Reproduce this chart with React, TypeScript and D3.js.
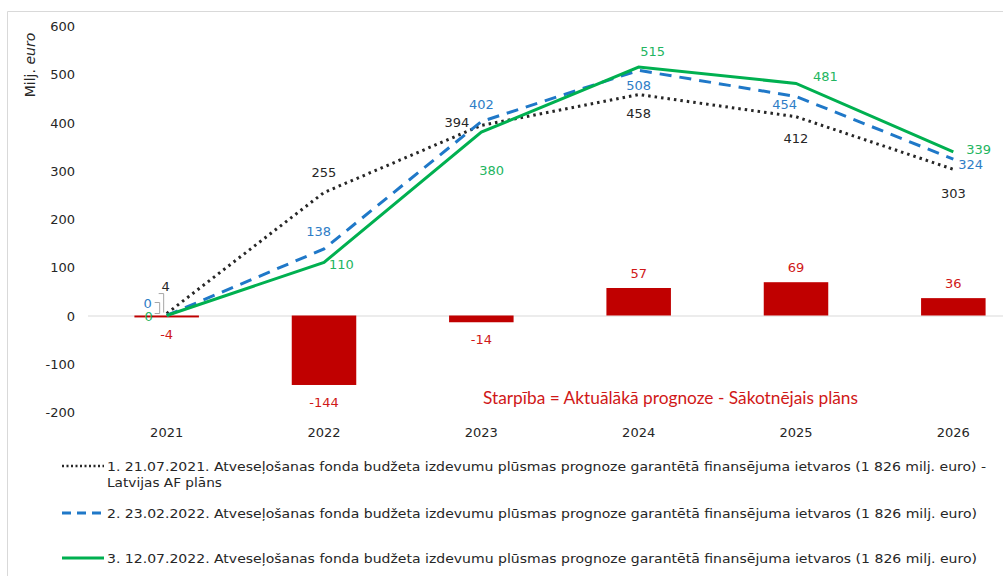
import React, { useEffect, useRef } from 'react'
import * as d3 from 'd3'

const years = ['2021', '2022', '2023', '2024', '2025', '2026']
const planInitial = [4, 255, 394, 458, 412, 303]
const planFeb = [0, 138, 402, 508, 454, 324]
const planJul = [0, 110, 380, 515, 481, 339]
const difference = [-4, -144, -14, 57, 69, 36]
const yTicks = [-200, -100, 0, 100, 200, 300, 400, 500, 600]

const legendLabels = [
  '1. 21.07.2021. Atveseļošanas fonda budžeta izdevumu plūsmas prognoze garantētā finansējuma ietvaros (1 826 milj. euro) -',
  '2. 23.02.2022. Atveseļošanas fonda budžeta izdevumu plūsmas prognoze garantētā finansējuma ietvaros (1 826 milj. euro)',
  '3. 12.07.2022. Atveseļošanas fonda budžeta izdevumu plūsmas prognoze garantētā finansējuma ietvaros (1 826 milj. euro)',
]

// label offsets [dx, dy, anchor] per point
const offInitial: [number, number, string][] = [
  [-1, -28, 'middle'], [0, -20, 'middle'], [-12, -3, 'end'], [0, 18, 'middle'], [0, 21, 'middle'], [0, 24, 'middle'],
]
const offFeb: [number, number, string][] = [
  [-15, -13, 'end'], [7, -18, 'end'], [0, -18, 'middle'], [0, 15, 'middle'], [1, 8, 'end'], [5, 5, 'start'],
]
const offJul: [number, number, string][] = [
  [-14, 0, 'end'], [5, 2, 'start'], [-2, 38, 'start'], [14, -16, 'middle'], [17, -7, 'start'], [13, -3, 'start'],
]

const BLACK = '#262626'
const BLUE = '#1f78c8'
const BLUE_TXT = '#2e7dc6'
const GREEN = '#00b050'
const GREEN_TXT = '#22b560'
const RED = '#c00000'
const RED_TXT = '#d01818'
const FONT = 'DejaVu Sans, Verdana, sans-serif'
const LEGEND_FONT = 'DejaVu Sans Condensed, DejaVu Sans, sans-serif'

export default function App() {
  const svgRef = useRef(null)

  useEffect(() => {
    const svg = d3.select(svgRef.current)
    svg.selectAll('*').remove()

    const x = d3.scaleBand().domain(years).range([88, 1032]).paddingInner(0).paddingOuter(0)
    const cx = (d: string) => (x(d) as number) + x.bandwidth() / 2
    const y = d3.scaleLinear().domain([-200, 600]).range([412, 26])

    // outer frame
    svg.append('path')
      .attr('d', 'M7.5,576 L7.5,11.5 L1003,11.5')
      .attr('fill', 'none')
      .attr('stroke', '#d9d9d9')

    // y axis label
    const yl = svg.append('text')
      .attr('transform', 'translate(35,65) rotate(-90)')
      .attr('text-anchor', 'middle')
      .attr('font-family', FONT)
      .attr('font-size', 14)
      .attr('fill', BLACK)
    yl.append('tspan').text('Milj. ')
    yl.append('tspan').attr('font-style', 'italic').text('euro')

    // y ticks
    svg.append('g').selectAll('text').data(yTicks).enter().append('text')
      .attr('x', 75)
      .attr('y', (d) => y(d) + 5)
      .attr('text-anchor', 'end')
      .attr('font-family', FONT)
      .attr('font-size', 13)
      .attr('fill', BLACK)
      .text((d) => d)

    // zero line
    svg.append('line')
      .attr('x1', 88).attr('x2', 1003)
      .attr('y1', y(0) + 0.5).attr('y2', y(0) + 0.5)
      .attr('stroke', '#d9d9d9')

    // x labels
    svg.append('g').selectAll('text').data(years).enter().append('text')
      .attr('x', (d) => cx(d))
      .attr('y', 437)
      .attr('text-anchor', 'middle')
      .attr('font-family', FONT)
      .attr('font-size', 13)
      .attr('fill', BLACK)
      .text((d) => d)

    // difference bars
    const bw = x.bandwidth() * 0.41
    svg.append('g').selectAll('rect').data(difference).enter().append('rect')
      .attr('x', (d, i) => cx(years[i]) - bw / 2)
      .attr('width', bw)
      .attr('y', (d) => y(Math.max(0, d)))
      .attr('height', (d) => Math.abs(y(d) - y(0)))
      .attr('fill', RED)

    svg.append('g').selectAll('text').data(difference).enter().append('text')
      .attr('x', (d, i) => cx(years[i]))
      .attr('y', (d) => (d < 0 ? y(d) + 22 : y(d) - 10))
      .attr('text-anchor', 'middle')
      .attr('font-family', FONT)
      .attr('font-size', 13)
      .attr('fill', RED_TXT)
      .text((d) => d)

    const line = d3.line<number>().x((d, i) => cx(years[i])).y((d) => y(d))

    // leader lines at 2021
    const p0x = cx(years[0])
    svg.append('path')
      .attr('d', `M${p0x - 8},${y(4) - 20} L${p0x - 3},${y(4) - 20} L${p0x - 3},${y(4) - 1}`)
      .attr('fill', 'none').attr('stroke', '#a6a6a6')
    svg.append('path')
      .attr('d', `M${p0x - 12},${y(0) - 13} L${p0x - 7},${y(0) - 13} L${p0x - 7},${y(0) - 2} L${p0x - 12},${y(0) - 2}`)
      .attr('fill', 'none').attr('stroke', '#a6a6a6')

    svg.append('path').attr('d', line(planInitial))
      .attr('fill', 'none').attr('stroke', BLACK).attr('stroke-width', 3)
      .attr('stroke-dasharray', '2.5,4')
    svg.append('path').attr('d', line(planFeb))
      .attr('fill', 'none').attr('stroke', BLUE).attr('stroke-width', 3)
      .attr('stroke-dasharray', '12,8')
    svg.append('path').attr('d', line(planJul))
      .attr('fill', 'none').attr('stroke', GREEN).attr('stroke-width', 3)

    const addLabels = (vals: number[], offs: [number, number, string][], color: string) => {
      svg.append('g').selectAll('text').data(vals).enter().append('text')
        .attr('x', (d, i) => cx(years[i]) + offs[i][0])
        .attr('y', (d, i) => y(d) + offs[i][1] + 5)
        .attr('text-anchor', (d, i) => offs[i][2])
        .attr('font-family', FONT)
        .attr('font-size', 13)
        .attr('fill', color)
        .text((d) => d)
    }
    addLabels(planInitial, offInitial, BLACK)
    addLabels(planFeb, offFeb, BLUE_TXT)
    addLabels(planJul, offJul, GREEN_TXT)

    // annotation
    svg.append('text')
      .attr('x', 483).attr('y', 404)
      .attr('font-family', 'Lato, Carlito, sans-serif')
      .attr('font-size', 17)
      .attr('fill', RED_TXT)
      .attr('textLength', 375)
      .attr('lengthAdjust', 'spacingAndGlyphs')
      .text('Starpība = Aktuālākā prognoze - Sākotnējais plāns')

    // legend
    const lg = svg.append('g')
    const rows = [466, 513, 558]
    const styles = [
      { stroke: BLACK, dash: '2,2.5', w: 2.5 },
      { stroke: BLUE, dash: '9,6', w: 3 },
      { stroke: GREEN, dash: null, w: 3 },
    ]
    rows.forEach((ry, i) => {
      const l = lg.append('line')
        .attr('x1', 62).attr('x2', 104)
        .attr('y1', ry).attr('y2', ry)
        .attr('stroke', styles[i].stroke)
        .attr('stroke-width', styles[i].w)
      if (styles[i].dash) l.attr('stroke-dasharray', styles[i].dash)
      lg.append('text')
        .attr('x', 107).attr('y', ry + 5)
        .attr('font-family', LEGEND_FONT)
        .attr('font-size', 13)
        .attr('fill', BLACK)
        .attr('textLength', i === 0 ? 879 : 870)
        .attr('lengthAdjust', 'spacingAndGlyphs')
        .text(legendLabels[i])
    })
    lg.append('text')
      .attr('x', 107).attr('y', 487)
      .attr('font-family', LEGEND_FONT)
      .attr('font-size', 13)
      .attr('fill', BLACK)
      .attr('textLength', 115)
      .attr('lengthAdjust', 'spacingAndGlyphs')
      .text('Latvijas AF plāns')
  }, [])

  return (
    <svg
      ref={svgRef}
      width={1003}
      height={576}
      style={{ position: 'absolute', left: 0, top: 0, background: '#fff' }}
    />
  )
}
